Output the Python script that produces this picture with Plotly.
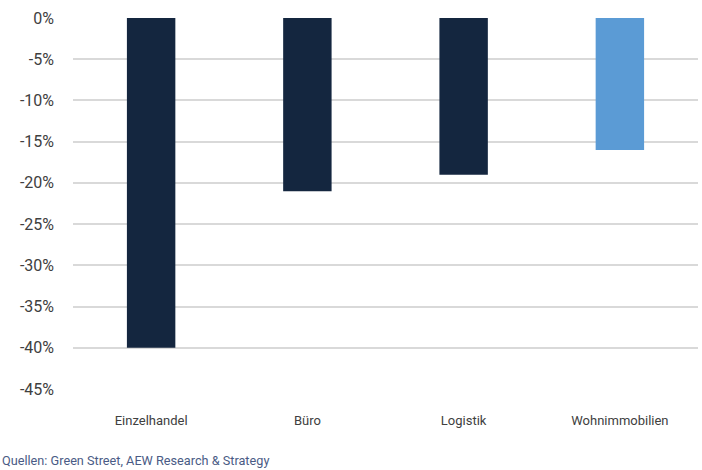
import plotly.graph_objects as go

categories = ["Einzelhandel", "Büro", "Logistik", "Wohnimmobilien"]
values = [-40, -21, -19, -16]
colors = ["#14263f", "#14263f", "#14263f", "#5b9bd5"]
y_ticks = [0, -5, -10, -15, -20, -25, -30, -35, -40, -45]
y_labels = [f"{v}%" for v in y_ticks]
source = "Quellen: Green Street, AEW Research & Strategy"

fig = go.Figure(go.Bar(x=categories, y=values, marker=dict(color=colors, line=dict(width=0)), width=0.31))

fig.update_layout(
    width=702, height=470,
    margin=dict(l=73, r=4, t=18, b=81),
    paper_bgcolor="white", plot_bgcolor="white",
    font=dict(family="Roboto", color="#404040"),
    showlegend=False,
    bargap=0.69,
)
fig.update_yaxes(
    range=[-45, 0], tickvals=y_ticks, ticktext=y_labels,
    showgrid=True, gridcolor="#d9d9d9", gridwidth=2,
    zeroline=False, tickfont=dict(size=16, color="#404040", family="Roboto"),
    ticklabelstandoff=18, showline=False,
)
fig.update_xaxes(
    showgrid=False, showline=False, zeroline=False,
    tickfont=dict(size=13, color="#404040", family="Roboto"),
    ticklabelstandoff=22,
)
fig.add_annotation(
    text=source, xref="paper", yref="paper", x=0, xanchor="left",
    y=0, yanchor="top", xshift=-73, yshift=-62, showarrow=False,
    font=dict(size=12.7, color="#4a5b85", family="Roboto"),
)
fig.write_html("out.html")
